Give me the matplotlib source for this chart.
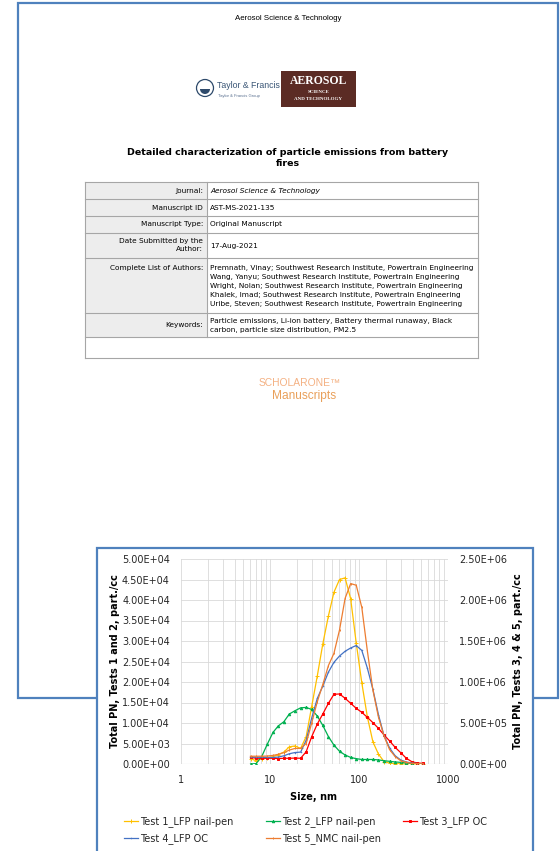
import matplotlib.pyplot as plt
from matplotlib.patches import Rectangle, Circle, Wedge
from matplotlib.ticker import FixedLocator, FuncFormatter, NullFormatter

W, H = 560, 851

# EEPS channel midpoints, nm
sizes_nm = [6.04, 6.98, 8.06, 9.31, 10.8, 12.4, 14.3, 16.5, 19.1, 22.1, 25.5,
            29.4, 34.0, 39.2, 45.3, 52.3, 60.4, 69.8, 80.6, 93.1, 107.5, 124.1,
            143.3, 165.5, 191.1, 220.7, 254.8, 294.3, 339.8, 392.4, 453.2, 523.3]

# tests 1 and 2 -> left axis
test1_lfp_nail = [1300, 800, 1300, 1500, 1800, 2300, 2900, 4200, 4400, 3800, 6700,
                  14000, 21500, 29300, 36100, 41900, 45000, 45400, 40300, 29500,
                  19800, 11500, 5400, 2400, 600, 200, 100, 50, 20, 10, 0, 0]
test2_lfp_nail = [0, 100, 1800, 4800, 7700, 9300, 10300, 12200, 13000, 13700, 13800,
                  13300, 11700, 9400, 6700, 4600, 3100, 2200, 1600, 1300, 1100, 1100,
                  1100, 1000, 800, 650, 500, 400, 250, 150, 80, 40]

# tests 3, 4 and 5 -> right axis
test3_lfp_oc = [81000, 70000, 70000, 70000, 70000, 66000, 70000, 70000, 72000, 70000,
                150000, 333000, 488000, 610000, 740000, 850000, 854000, 801000,
                740000, 679000, 630000, 569000, 504000, 435000, 354000, 281000,
                203000, 138000, 70000, 28000, 12000, 8000]
test4_lfp_oc = [85000, 82000, 82000, 80000, 80000, 85000, 100000, 125000, 140000,
                145000, 290000, 560000, 800000, 950000, 1120000, 1240000, 1317000,
                1375000, 1415000, 1445000, 1385000, 1170000, 910000, 600000, 345000,
                195000, 100000, 49000, 25000, 12000, 5000, 2000]
test5_nmc_nail = [95000, 95000, 95000, 97000, 105000, 118000, 138000, 170000, 190000,
                  190000, 250000, 500000, 760000, 970000, 1200000, 1350000, 1634000,
                  2020000, 2200000, 2180000, 1910000, 1380000, 900000, 570000, 340000,
                  175000, 90000, 40000, 20000, 8000, 4000, 2000]

labels = ["Test 1_LFP nail-pen", "Test 2_LFP nail-pen", "Test 3_LFP OC",
          "Test 4_LFP OC", "Test 5_NMC nail-pen"]
colors = ["#FFC000", "#00B050", "#FF0000", "#4472C4", "#ED7D31"]
markers = ["+", "^", "s", ".", "|"]
msizes = [2.6, 1.8, 1.9, 0.8, 1.6]

left_ticks = [0, 5e3, 1e4, 1.5e4, 2e4, 2.5e4, 3e4, 3.5e4, 4e4, 4.5e4, 5e4]
right_ticks = [0, 5e5, 1e6, 1.5e6, 2e6, 2.5e6]

BLUE = "#4F81BD"
SANS = "DejaVu Sans"


def px(x, y):
    return x / W, 1 - y / H


fig = plt.figure(figsize=(W / 100, H / 100), dpi=100)
bg = fig.add_axes([0, 0, 1, 1])
bg.set_xlim(0, W)
bg.set_ylim(H, 0)
bg.axis("off")
bg.set_zorder(-1)

# --- cover sheet ---
bg.add_patch(Rectangle((18, 3), 540, 695, fill=False, ec=BLUE, lw=1.6, zorder=1))
bg.text(288, 18, "Aerosol Science & Technology", ha="center", va="center",
        fontsize=5.7, family="Liberation Sans")

# Taylor & Francis mark
bg.add_patch(Circle((205, 88), 8.5, fill=False, ec="#2E4A6B", lw=0.9))
bg.add_patch(Wedge((205, 89), 5, 0, 180, fc="#2E4A6B", ec="none"))
bg.text(217, 86, "Taylor & Francis", ha="left", va="center", fontsize=6.3,
        color="#3A5676", family="Liberation Sans")
bg.text(218, 95.5, "Taylor & Francis Group", ha="left", va="center", fontsize=3.0,
        color="#5A7090", family="Liberation Sans")

# journal badge
bg.add_patch(Rectangle((281, 71), 75, 36, fc="#5B2B24", ec="none"))
bg.text(318.5, 81, "AEROSOL", ha="center", va="center", fontsize=8.5,
        color="white", family="Liberation Serif", weight="bold")
bg.text(318.5, 92, "SCIENCE", ha="center", va="center", fontsize=3.6,
        color="white", family="Liberation Serif", weight="bold")
bg.text(318.5, 99.5, "AND TECHNOLOGY", ha="center", va="center", fontsize=3.6,
        color="white", family="Liberation Serif", weight="bold")

bg.text(288, 152.5, "Detailed characterization of particle emissions from battery",
        ha="center", va="center", fontsize=6.8, weight="bold", family=SANS)
bg.text(288, 163.5, "fires", ha="center", va="center", fontsize=6.8,
        weight="bold", family=SANS)

# manuscript details table
tbl_left, tbl_mid, tbl_right = 85, 206.7, 478
row_edges = [181.7, 199, 215.7, 232.7, 258.3, 312.7, 337.3, 358.3]
for top, bot in zip(row_edges[:-2], row_edges[1:-1]):
    bg.add_patch(Rectangle((tbl_left, top), tbl_mid - tbl_left, bot - top,
                           fc="#EDEDED", ec="none"))
for y in row_edges:
    bg.plot([tbl_left, tbl_right], [y, y], color="#A6A6A6", lw=0.8)
bg.plot([tbl_left, tbl_left], [row_edges[0], row_edges[-1]], color="#A6A6A6", lw=0.8)
bg.plot([tbl_right, tbl_right], [row_edges[0], row_edges[-1]], color="#A6A6A6", lw=0.8)
bg.plot([tbl_mid, tbl_mid], [row_edges[0], row_edges[-2]], color="#A6A6A6", lw=0.8)

tfs = 5.35
label_rows = [("Journal:", 190.7), ("Manuscript ID", 207.7),
              ("Manuscript Type:", 224.3), ("Date Submitted by the", 240.7),
              ("Author:", 249.3), ("Complete List of Authors:", 267.7),
              ("Keywords:", 325)]
for txt, y in label_rows:
    bg.text(203, y, txt, ha="right", va="center", fontsize=tfs, family=SANS)

bg.text(210, 190.7, "Aerosol Science & Technology", ha="left", va="center",
        fontsize=tfs, family=SANS, style="italic")
value_rows = [("AST-MS-2021-135", 207.7), ("Original Manuscript", 224.3),
              ("17-Aug-2021", 246),
              ("Premnath, Vinay; Southwest Research Institute, Powertrain Engineering", 267.7),
              ("Wang, Yanyu; Southwest Research Institute, Powertrain Engineering", 276.7),
              ("Wright, Nolan; Southwest Research Institute, Powertrain Engineering", 285.7),
              ("Khalek, Imad; Southwest Research Institute, Powertrain Engineering", 294.7),
              ("Uribe, Steven; Southwest Research Institute, Powertrain Engineering", 303.7),
              ("Particle emissions, Li-ion battery, Battery thermal runaway, Black", 320.7),
              ("carbon, particle size distribution, PM2.5", 330)]
for txt, y in value_rows:
    bg.text(210, y, txt, ha="left", va="center", fontsize=tfs, family=SANS)

bg.text(299.5, 382.5, "SCHOLARONE\u2122", ha="center", va="center", fontsize=7.4,
        color="#F4B183", family="Liberation Sans")
bg.text(304, 396, "Manuscripts", ha="center", va="center", fontsize=8.6,
        color="#E9A05A", family="Liberation Sans")

# --- chart panel ---
bg.add_patch(Rectangle((97, 548), 436, 320, fc="white", ec=BLUE, lw=1.6, zorder=5))

plot_l, plot_r, plot_t, plot_b = 181, 448, 559, 764
ax = fig.add_axes([plot_l / W, 1 - plot_b / H, (plot_r - plot_l) / W,
                   (plot_b - plot_t) / H])
ax.set_zorder(1)
ax2 = ax.twinx()
ax2.set_zorder(2)
ax2.patch.set_visible(False)

series = [test1_lfp_nail, test2_lfp_nail, test3_lfp_oc, test4_lfp_oc, test5_nmc_nail]
handles = []
for i, vals in enumerate(series):
    target = ax if i < 2 else ax2
    ln, = target.plot(sizes_nm, vals, color=colors[i], lw=0.9, marker=markers[i],
                      ms=msizes[i], mew=0.7, label=labels[i])
    handles.append(ln)

ax.set_xscale("log")
ax.set_xlim(1, 1000)
ax.set_ylim(0, 5e4)
ax2.set_ylim(0, 2.5e6)
ax.xaxis.set_major_locator(FixedLocator([1, 10, 100, 1000]))
ax.xaxis.set_major_formatter(FuncFormatter(lambda v, p: f"{v:g}"))
ax.xaxis.set_minor_locator(FixedLocator([m * d for d in (1, 10, 100) for m in range(2, 10)]))
ax.xaxis.set_minor_formatter(NullFormatter())
ax.yaxis.set_major_locator(FixedLocator(left_ticks))
ax2.yaxis.set_major_locator(FixedLocator(right_ticks))
sci = FuncFormatter(lambda v, p: f"{v:.2E}")
ax.yaxis.set_major_formatter(sci)
ax2.yaxis.set_major_formatter(sci)

ax.grid(True, which="both", axis="x", color="#D9D9D9", lw=0.6)
ax.grid(True, which="major", axis="y", color="#D9D9D9", lw=0.6)
ax.set_axisbelow(True)
for a in (ax, ax2):
    for s in a.spines.values():
        s.set_visible(False)
    a.tick_params(which="both", length=0, labelsize=7, labelcolor="#262626", pad=8)
ax.axhline(0, color="#BFBFBF", lw=0.8, zorder=0)

fig.text(*px(115, 661.5), "Total PN, Tests 1 and 2, part./cc", rotation=90,
         ha="center", va="center", fontsize=7, weight="bold", family=SANS)
fig.text(*px(518, 661.5), "Total PN, Tests 3, 4 & 5, part./cc", rotation=90,
         ha="center", va="center", fontsize=7, weight="bold", family=SANS)
fig.text(*px(314, 797), "Size, nm", ha="center", va="center", fontsize=7,
         weight="bold", family=SANS)

# legend laid out in rows, one block per column
legend_cols = [([0, 3], 124), ([1, 4], 266), ([2], 403)]
for idx, x0 in legend_cols:
    leg = fig.legend([handles[i] for i in idx], [labels[i] for i in idx],
                     loc="upper left", bbox_to_anchor=px(x0, 816.5), frameon=False,
                     borderpad=0, borderaxespad=0, handlelength=1.4,
                     handletextpad=0.25, labelspacing=0.6,
                     prop={"family": SANS, "size": 7})
    for t in leg.get_texts():
        t.set_color("#262626")

fig.savefig("out.png", dpi=100)
